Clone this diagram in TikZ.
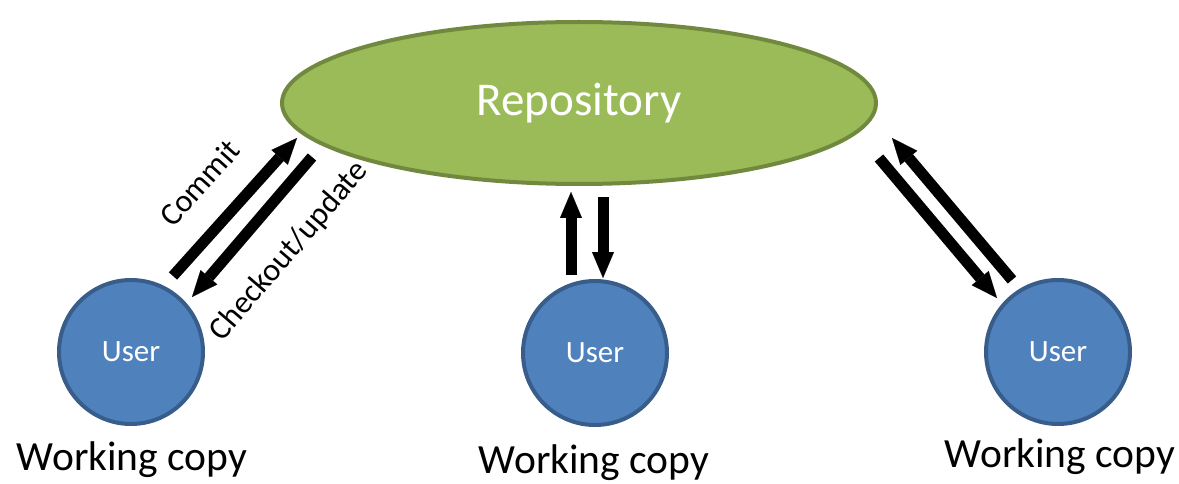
\documentclass[tikz,border=0pt]{standalone}
\usepackage{fontspec}
\setmainfont{Carlito}
\usepackage{tikz}
\usetikzlibrary{shapes.geometric,arrows.meta}
\definecolor{repofill}{HTML}{9BBB59}
\definecolor{repoline}{HTML}{71893F}
\definecolor{userfill}{HTML}{4F81BD}
\definecolor{userline}{HTML}{385D8A}
\tikzset{repo/.style={ellipse, draw=repoline, fill=repofill, line width=4pt,
		minimum width=594pt, minimum height=162pt, inner sep=0pt, text=white,
		font=\fontsize{47}{56}\selectfont},
	user/.style={circle, draw=userline, fill=userfill, line width=4pt,
		minimum size=144pt, inner sep=0pt, text=white, font=\fontsize{31}{37}\selectfont},
	wcopy/.style={anchor=base, font=\fontsize{41.5}{50}\selectfont},
	bigarrow/.style={line width=11pt, -{Triangle[width=22pt,length=26pt,line width=0.1pt]}},
	lbl/.style={inner sep=0pt, sloped, font=\fontsize{32}{38}\selectfont}}

\begin{document}
\begin{tikzpicture}[x=1pt,y=-1pt]
		\useasboundingbox (0,0) rectangle (1179,484);
		% repository and the three users
		\node[repo] (repo) at (579,103) {Repository};
		\node[user] (u1) at (131,352) {User};
		\node[user] (u2) at (595,353) {User};
		\node[user] (u3) at (1058,352) {User};
		\node[wcopy] (wc1) at (132,470) {Working copy};
		\node[wcopy] (wc2) at (594,473) {Working copy};
		\node[wcopy] (wc3) at (1060,467) {Working copy};
		% arrow ends
		\coordinate (a1) at (173,276);
		\coordinate (b1) at (297,138);
		\coordinate (c1) at (312,157);
		\coordinate (d1) at (192,297);
		\coordinate (a2) at (571,275);
		\coordinate (b2) at (571,192);
		\coordinate (c2) at (603,197);
		\coordinate (d2) at (603,278);
		\coordinate (a3) at (1012,280);
		\coordinate (b3) at (892,138);
		\coordinate (c3) at (879,158);
		\coordinate (d3) at (997,298);
		\draw[bigarrow] (a1) -- node[lbl, above=26pt, pos=0.47] {Commit} (b1);
		\draw[bigarrow] (c1) -- node[lbl, below=25pt, pos=0.47] {Checkout/update} (d1);
		\draw[bigarrow] (a2) -- (b2);
		\draw[bigarrow] (c2) -- (d2);
		\draw[bigarrow] (a3) -- (b3);
		\draw[bigarrow] (c3) -- (d3);
\end{tikzpicture}
\end{document}
